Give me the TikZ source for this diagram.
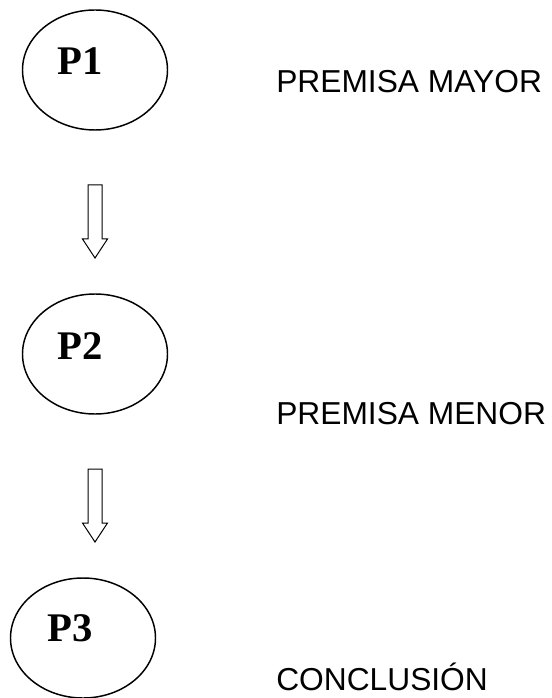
\documentclass[tikz,border=0pt]{standalone}
\usepackage{fontspec}
\setmainfont{Liberation Sans}
\newfontfamily\serifbold{Liberation Serif}
\usetikzlibrary{shapes.geometric}
\tikzset{
  oval/.style={draw, ellipse, line width=1.1pt, minimum width=108.75pt, minimum height=90pt, inner sep=0pt},
  plabel/.style={inner sep=0pt, font=\serifbold\fontsize{30.5}{30.5}\selectfont\bfseries},
  caption/.style={inner sep=0pt, text depth=0pt, anchor=base west, font=\fontsize{23.8}{24}\selectfont},
  blockarr/.style={draw, line width=0.75pt, line join=miter}
}
\begin{document}
\begin{tikzpicture}[x=0.75pt,y=-0.75pt]
\useasboundingbox (0,0) rectangle (551,698);
% ellipses
\node[oval] (p1) at (95,70) {};
\node[oval] (p2) at (95,354) {};
\node[oval] (p3) at (83,638) {};
\node[plabel] (t1) at (80,61) {P1};
\node[plabel] (t2) at (80,346) {P2};
\node[plabel] (t3) at (70,628) {P3};
% captions
\node[caption] (c1) at (276,93) {PREMISA MAYOR};
\node[caption] (c2) at (276,424) {PREMISA MENOR};
\node[caption] (c3) at (276,690) {CONCLUSIÓN};
% block arrows
\coordinate (a1) at (95,185);
\coordinate (a2) at (95,469);
\draw[blockarr] (a1) ++(-7,0) -- ++(14,0) -- ++(0,54) -- ++(5.5,0) -- ++(-12.5,19) -- ++(-12.5,-19) -- ++(5.5,0) -- cycle;
\draw[blockarr] (a2) ++(-7,0) -- ++(14,0) -- ++(0,54) -- ++(5.5,0) -- ++(-12.5,19) -- ++(-12.5,-19) -- ++(5.5,0) -- cycle;
\end{tikzpicture}
\end{document}
